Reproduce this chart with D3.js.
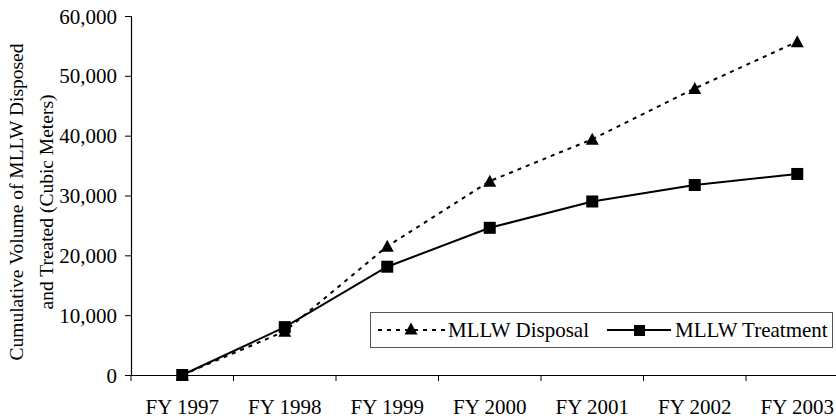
<!DOCTYPE html>
<html>
<head>
<meta charset="utf-8">
<script src="https://cdn.jsdelivr.net/npm/d3@7"></script>
<style>
  body { margin: 0; background: #fff; }
  text { font-family: "Liberation Serif", "Times New Roman", serif; fill: #000; }
</style>
</head>
<body>
<script>
// chart data
var years = ["FY 1997", "FY 1998", "FY 1999", "FY 2000", "FY 2001", "FY 2002", "FY 2003"];
var disposal = [0, 7300, 21500, 32400, 39400, 47900, 55700];
var treatment = [0, 8000, 18100, 24600, 29000, 31750, 33600];
var yTicks = [0, 10000, 20000, 30000, 40000, 50000, 60000];
var seriesNames = ["MLLW Disposal", "MLLW Treatment"];

var w = 836, h = 419;
var svg = d3.select("body").append("svg").attr("width", w).attr("height", h);

// scales
var x = d3.scaleBand().domain(years).range([131, 848.5]);
var y = d3.scaleLinear().domain([0, 60000]).range([375, 16]);

// y axis
var yAxis = svg.append("g").attr("transform", "translate(131,0)")
  .call(d3.axisLeft(y).tickValues(yTicks).tickSize(6).tickPadding(8)
    .tickFormat(d3.format(",")));
yAxis.selectAll("text").style("font-size", "21px").attr("dy", "0.34em");

// x axis
var xAxis = svg.append("g").attr("transform", "translate(0,375)")
  .call(d3.axisBottom(x).tickSize(0).tickPadding(24));
xAxis.selectAll("text").style("font-size", "21px");
// ticks on band boundaries
xAxis.selectAll(".bound").data(years).enter().append("line")
  .attr("x1", function (d){ return x(d); }).attr("x2", function (d){ return x(d); })
  .attr("y1", 0).attr("y2", 6).attr("stroke", "#000");
svg.selectAll(".domain").attr("stroke", "#000").attr("stroke-width", 1.2);
svg.selectAll(".tick line").attr("stroke", "#000");

// triangle marker
var tri = { draw: function (ctx){ ctx.moveTo(0, -6.5); ctx.lineTo(6.5, 5.5); ctx.lineTo(-6.5, 5.5); ctx.closePath(); } };

function cx(d, i){ return x(years[i]) + x.bandwidth() / 2; }

var line = d3.line().x(function (d, i){ return cx(d, i); }).y(function (d){ return y(d); });

// disposal (dashed + triangles)
svg.append("path").datum(disposal).attr("d", line)
  .attr("fill", "none").attr("stroke", "#000").attr("stroke-width", 2)
  .attr("stroke-dasharray", "4,5");
svg.selectAll(".tri").data(disposal).enter().append("path")
  .attr("d", d3.symbol().type(tri))
  .attr("transform", function (d, i){ return "translate(" + cx(d, i) + "," + y(d) + ")"; })
  .attr("fill", "#000");

// treatment (solid + squares)
svg.append("path").datum(treatment).attr("d", line)
  .attr("fill", "none").attr("stroke", "#000").attr("stroke-width", 2);
svg.selectAll(".sq").data(treatment).enter().append("rect")
  .attr("x", function (d, i){ return cx(d, i) - 6; })
  .attr("y", function (d){ return y(d) - 6; })
  .attr("width", 12).attr("height", 12).attr("fill", "#000");

// y title
var title = svg.append("text")
  .attr("transform", "translate(23,202) rotate(-90)")
  .attr("text-anchor", "middle").style("font-size", "19.5px");
title.append("tspan").attr("x", 0).attr("dy", 0).text("Cumulative Volume of MLLW Disposed");
title.append("tspan").attr("x", 0).attr("dy", 30).text("and Treated (Cubic Meters)");

// legend
var lg = svg.append("g");
lg.append("rect").attr("x", 370.5).attr("y", 312.5).attr("width", 462).attr("height", 35)
  .attr("fill", "#fff").attr("stroke", "#555").attr("stroke-width", 1);
lg.append("line").attr("x1", 378).attr("x2", 446).attr("y1", 330).attr("y2", 330)
  .attr("stroke", "#000").attr("stroke-width", 2).attr("stroke-dasharray", "4,5");
lg.append("path").attr("d", d3.symbol().type(tri))
  .attr("transform", "translate(411,329)").attr("fill", "#000");
lg.append("text").attr("x", 448).attr("y", 337).style("font-size", "21px").text(seriesNames[0]);
lg.append("line").attr("x1", 607).attr("x2", 671).attr("y1", 330).attr("y2", 330)
  .attr("stroke", "#000").attr("stroke-width", 2);
lg.append("rect").attr("x", 634).attr("y", 325).attr("width", 11).attr("height", 11).attr("fill", "#000");
lg.append("text").attr("x", 675).attr("y", 337).style("font-size", "21px").text(seriesNames[1]);
</script>
</body>
</html>
